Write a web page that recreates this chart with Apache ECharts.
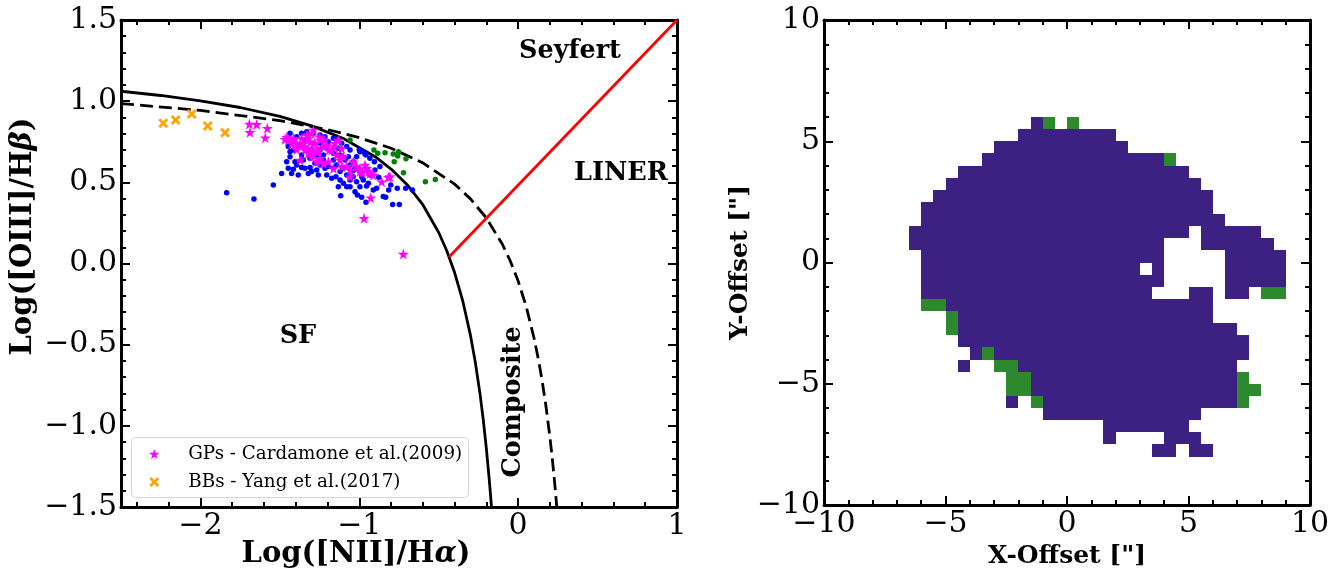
<!DOCTYPE html>
<html><head><meta charset="utf-8">
<script src="https://cdn.jsdelivr.net/npm/echarts@6/dist/echarts.min.js"></script>
<style>html,body{margin:0;padding:0;background:#fff}#c{width:1341px;height:569px}</style>
</head><body><div id="c"></div>
<script>
// ---------- DATA (left panel: BPT diagram) ----------
const kauffmanCurve = [[-2.5,1.061],[-2.25,1.035],[-2.0,1.002],[-1.75,0.961],[-1.5,0.906],[-1.3,0.848],[-1.1,0.770],[-0.9,0.658],[-0.8,0.582],[-0.7,0.487],[-0.6,0.362],[-0.5,0.191],[-0.45,0.080],[-0.4,-0.056],[-0.35,-0.225],[-0.3,-0.443],[-0.27,-0.606],[-0.24,-0.803],[-0.22,-0.959],[-0.2,-1.140],[-0.18,-1.352],[-0.168,-1.498]];
const kewleyCurve = [[-2.5,0.985],[-2.0,0.943],[-1.5,0.880],[-1.2,0.825],[-1.0,0.775],[-0.8,0.710],[-0.6,0.620],[-0.4,0.489],[-0.3,0.398],[-0.2,0.280],[-0.1,0.120],[-0.05,0.017],[0.0,-0.108],[0.05,-0.262],[0.1,-0.459],[0.13,-0.604],[0.15,-0.716],[0.175,-0.878],[0.2,-1.069],[0.215,-1.202],[0.23,-1.352],[0.243,-1.497]];
const seyfertLinerLine = [[-0.435,0.04],[1.0,1.5]];
const blueSpaxels = [[-1.457,0.627],[-1.447,0.586],[-1.436,0.658],[-1.426,0.555],[-1.489,0.555],[-1.384,0.545],[-1.415,0.580],[-1.363,0.592],[-1.310,0.592],[-1.268,0.576],[-1.247,0.607],[-1.195,0.597],[-1.163,0.638],[-1.147,0.535],[-1.121,0.514],[-1.100,0.494],[-1.079,0.473],[-1.058,0.514],[-1.038,0.535],[-1.027,0.442],[-1.012,0.422],[-0.996,0.473],[-0.954,0.477],[-0.943,0.494],[-0.985,0.408],[-0.958,0.377],[-0.912,0.453],[-0.891,0.463],[-0.849,0.412],[-0.834,0.408],[-0.815,0.453],[-0.802,0.484],[-0.790,0.364],[-0.748,0.364],[-0.761,0.463],[-0.708,0.463],[-0.666,0.453],[-0.878,0.531],[-1.038,0.627],[-1.017,0.658],[-0.996,0.689],[-0.964,0.675],[-0.933,0.648],[-0.905,0.627],[-1.058,0.699],[-1.079,0.720],[-1.111,0.740],[-1.142,0.761],[-1.163,0.771],[-1.216,0.781],[-1.247,0.792],[-1.289,0.802],[-1.331,0.812],[-1.363,0.802],[-1.394,0.781],[-1.415,0.750],[-1.447,0.720],[-1.436,0.689],[-1.405,0.627],[-1.352,0.638],[-1.310,0.648],[-1.268,0.658],[-1.247,0.699],[-1.205,0.709],[-1.163,0.679],[-1.121,0.668],[-1.090,0.638],[-1.058,0.607],[-1.027,0.586],[-0.996,0.566],[-1.121,0.566],[-1.163,0.586],[-1.205,0.545],[-1.258,0.545],[-1.300,0.566],[-1.342,0.586],[-1.038,0.572],[-0.985,0.535],[-1.079,0.545],[-1.835,0.436],[-1.663,0.397],[-1.541,0.484],[-1.117,0.418],[-1.373,0.720],[-1.331,0.699],[-1.289,0.740],[-1.363,0.668],[-1.300,0.689],[-1.394,0.607],[-1.226,0.638],[-1.216,0.586],[-1.279,0.617],[-1.342,0.750],[-1.247,0.740],[-1.195,0.750],[-1.132,0.709],[-1.226,0.668],[-1.142,0.607],[-1.100,0.586],[-1.069,0.658],[-1.321,0.555],[-1.174,0.525],[-1.132,0.473],[-1.058,0.473],[-1.017,0.504],[-0.975,0.514],[-0.933,0.545],[-0.901,0.576],[-0.870,0.597],[-1.415,0.699],[-1.457,0.761],[-1.436,0.802],[-0.975,0.689],[-0.958,0.668],[-1.000,0.700]];
const greenSpaxels = [[-0.908,0.699],[-0.838,0.683],[-0.884,0.679],[-0.786,0.675],[-0.754,0.689],[-0.758,0.662],[-0.706,0.646],[-0.780,0.627],[-0.722,0.559],[-0.584,0.504],[-0.521,0.518],[-1.058,0.761]];
const greenPeas = [[-1.457,0.777],[-1.426,0.740],[-1.447,0.761],[-1.394,0.703],[-1.373,0.638],[-1.363,0.771],[-1.331,0.792],[-1.300,0.802],[-1.289,0.822],[-1.310,0.750],[-1.342,0.720],[-1.321,0.679],[-1.300,0.658],[-1.268,0.689],[-1.247,0.761],[-1.226,0.720],[-1.205,0.730],[-1.174,0.699],[-1.153,0.740],[-1.132,0.761],[-1.111,0.709],[-1.121,0.638],[-1.142,0.668],[-1.195,0.627],[-1.226,0.617],[-1.163,0.586],[-1.111,0.597],[-1.058,0.576],[-1.038,0.627],[-1.017,0.597],[-1.058,0.535],[-0.996,0.566],[-0.964,0.607],[-0.954,0.586],[-0.933,0.555],[-0.912,0.545],[-0.859,0.504],[-0.817,0.531],[-0.807,0.535],[-0.996,0.586],[-1.247,0.648],[-1.268,0.627],[-1.394,0.740],[-1.415,0.771],[-1.468,0.765],[-1.692,0.859],[-1.646,0.857],[-1.688,0.808],[-1.579,0.833],[-1.592,0.775],[-0.970,0.278],[-0.723,0.058],[-0.928,0.405],[-1.35,0.74],[-1.28,0.74],[-1.32,0.77],[-1.26,0.70],[-1.30,0.71],[-1.34,0.70],[-1.37,0.72],[-1.25,0.78],[-1.29,0.67],[-1.19,0.70],[-1.16,0.72],[-1.22,0.76],[-1.10,0.66],[-1.08,0.60],[-0.98,0.56],[-0.94,0.57]];
const blueberries = [[-2.234,0.864],[-2.156,0.884],[-2.055,0.921],[-1.954,0.847],[-1.845,0.806]];
const regionLabels = [[0.326,1.309,'Seyfert',0],[0.647,0.557,'LINER',0],[-1.386,-0.447,'SF',0],[-0.032,-0.853,'Composite',90]];
const bptXTicks = [-2,-1,0,1];
const bptXMinorTicks = [-2.4,-2.2,-1.8,-1.6,-1.4,-1.2,-0.8,-0.6,-0.4,-0.2,0.2,0.4,0.6,0.8];
const legendNames = ['GPs - Cardamone et al.(2009)','BBs - Yang et al.(2017)'];

// ---------- DATA (right panel: spatial map, runs of 0.5" cells: [row bottom y, x start, x end]) ----------
const starFormingRuns = [
 [5.5,-1.5,-1],[5,-2,2],[4.5,-3,2.5],[4,-3.5,4],[3.5,-4.5,5],[3,-5,5.5],[2.5,-5.5,6],[2,-6,6],[1.5,-6,6.5],
 [1,-6.5,5],[1,5.5,8],[0.5,-6.5,4],[0.5,5.5,8.5],[0,-6,4],[0,6.5,9],
 [-0.5,-6,3],[-0.5,3.5,4],[-0.5,6.5,9],[-1,-6,4],[-1,6.5,9],
 [-1.5,-6,3.5],[-1.5,5,6],[-1.5,6.5,7.5],[-2,-5,6],[-2.5,-4.5,6],[-3,-4.5,7],[-3.5,-4.5,7.5],
 [-4,-4,-3.5],[-4,-3,7.5],[-4.5,-4.5,-4],[-4.5,-2,7],[-5,-1.5,7],[-5.5,-1.5,7],
 [-6,-2.5,-2],[-6,-1,7],[-6.5,-1,5.5],[-7,1.5,5],[-7.5,1.5,2],[-7.5,4,5.5],[-8,3.5,4.5],[-8,5,6]];
const compositeRuns = [
 [5.5,-1,-0.5],[5.5,0,0.5],[4,4,4.5],[-1.5,8,9],[-2,-6,-5],[-2.5,-5,-4.5],[-3,-5,-4.5],[-4,-3.5,-3],
 [-4.5,-3,-2],[-5,-2.5,-1.5],[-5,7,7.5],[-5.5,-2.5,-1.5],[-5.5,7,8],[-6,-1.5,-1],[-6,7,7.5]];
const mapTicks = [-10,-5,0,5,10];

// ---------- RENDER ----------
const FONT = 'DejaVu Serif';
const CELL = 0.5;
const minus = s => String(s).replace('-', '\u2212');
const STAR = 'path://M0,-1 L0.2245,-0.309 L0.951,-0.309 L0.3633,0.118 L0.588,0.809 L0,0.382 L-0.588,0.809 L-0.3633,0.118 L-0.951,-0.309 L-0.2245,-0.309 Z';
const XMARK = 'path://M0.53,-0.884 L0.884,-0.53 L0.354,0 L0.884,0.53 L0.53,0.884 L0,0.354 L-0.53,0.884 L-0.884,0.53 L-0.354,0 L-0.884,-0.53 L-0.53,-0.884 L0,-0.354 Z';

const lineW = 3, tickW = 2, majLen = 9, minLen = 5;
const tickStyle = {color:'#000', width:tickW};
function frameAxis(extra){
  return Object.assign({
    type:'value', splitLine:{show:false},
    axisLine:{show:true, onZero:false, lineStyle:{color:'#000', width:lineW}},
    axisTick:{show:true, inside:true, length:majLen, lineStyle:tickStyle},
    minorTick:{show:false}, axisLabel:{show:false}
  }, extra);
}
const labelStyle = {show:true, fontFamily:FONT, fontSize:30, color:'#000'};
function nameStyle(size, pad){
  return {fontFamily:FONT, fontWeight:'bold', fontSize:size, color:'#000', padding:pad,
    rich:{g:{fontFamily:FONT, fontStyle:'italic', fontSize:size, color:'#000'}}};
}

const xAxes = [
  frameAxis({gridIndex:0, position:'bottom', min:-2.5, max:1,
    axisTick:{show:true, inside:true, length:majLen, customValues:bptXTicks, lineStyle:tickStyle},
    axisLabel:Object.assign({customValues:bptXTicks, margin:4, formatter:v=>minus(v)}, labelStyle),
    name:'Log([NII]/H{g|α})', nameLocation:'middle', nameGap:33, nameMoveOverlap:false,
    nameTextStyle:nameStyle(29,[0,86,0,0])}),
  frameAxis({gridIndex:0, position:'top', min:-2.5, max:1,
    axisTick:{show:true, inside:true, length:majLen, customValues:bptXTicks, lineStyle:tickStyle}}),
  frameAxis({gridIndex:0, position:'bottom', min:-2.5, max:1, axisLine:{show:false, onZero:false},
    axisTick:{show:true, inside:true, length:minLen, customValues:bptXMinorTicks, lineStyle:tickStyle}}),
  frameAxis({gridIndex:0, position:'top', min:-2.5, max:1, axisLine:{show:false, onZero:false},
    axisTick:{show:true, inside:true, length:minLen, customValues:bptXMinorTicks, lineStyle:tickStyle}}),
  frameAxis({gridIndex:1, position:'bottom', min:-10, max:10, interval:5,
    minorTick:{show:true, splitNumber:5, length:minLen, lineStyle:tickStyle},
    axisLabel:Object.assign({customValues:mapTicks, margin:4, formatter:v=>minus(v)}, labelStyle),
    name:'X-Offset ["]', nameLocation:'middle', nameGap:33, nameTextStyle:nameStyle(25,[0,0,0,0])}),
  frameAxis({gridIndex:1, position:'top', min:-10, max:10, interval:5,
    minorTick:{show:true, splitNumber:5, length:minLen, lineStyle:tickStyle}})
];
const yAxes = [
  frameAxis({gridIndex:0, position:'left', min:-1.5, max:1.5, interval:0.5,
    minorTick:{show:true, splitNumber:5, length:minLen, lineStyle:tickStyle},
    axisLabel:Object.assign({margin:4, formatter:v=>minus(v.toFixed(1))}, labelStyle),
    name:'Log([OIII]/H{g|β})', nameLocation:'middle', nameGap:83, nameTextStyle:nameStyle(29,[0,0,0,54])}),
  frameAxis({gridIndex:0, position:'right', min:-1.5, max:1.5, interval:0.5,
    minorTick:{show:true, splitNumber:5, length:minLen, lineStyle:tickStyle}}),
  frameAxis({gridIndex:1, position:'left', min:-10, max:10, interval:5,
    minorTick:{show:true, splitNumber:5, length:minLen, lineStyle:tickStyle},
    axisLabel:Object.assign({customValues:mapTicks, margin:4, formatter:v=>minus(v)}, labelStyle),
    name:'Y-Offset ["]', nameLocation:'middle', nameGap:64, nameTextStyle:nameStyle(25,[0,0,0,0])}),
  frameAxis({gridIndex:1, position:'right', min:-10, max:10, interval:5,
    minorTick:{show:true, splitNumber:5, length:minLen, lineStyle:tickStyle}})
];

function runRenderer(color){
  return function(params, api){
    const yb = api.value(0), xa = api.value(1), xb = api.value(2);
    const p0 = api.coord([xa, yb + CELL]);
    const p1 = api.coord([xb, yb]);
    const x0 = Math.round(p0[0]), y0 = Math.round(p0[1]);
    const x1 = Math.round(p1[0]), y1 = Math.round(p1[1]);
    return {type:'rect', shape:{x:x0, y:y0, width:x1-x0, height:y1-y0},
      style:{fill:color}};
  };
}

const chart = echarts.init(document.getElementById('c'), null, {renderer:'canvas'});
chart.setOption({
  animation:false,
  backgroundColor:'#fff',
  grid:[
    {left:121, top:20, width:556, height:487, outerBoundsMode:'none', containLabel:false},
    {left:824, top:20, width:486, height:485, outerBoundsMode:'none', containLabel:false}
  ],
  xAxis:xAxes,
  yAxis:yAxes,
  graphic:[{type:'rect', left:131, top:437, z:90,
    shape:{width:337, height:60, r:4},
    style:{fill:'rgba(255,255,255,0.85)', stroke:'#d6d6d6', lineWidth:1}}],
  legend:{
    show:true, orient:'vertical', left:149, top:445, data:legendNames, z:100,
    padding:0, itemGap:10, itemWidth:58, itemHeight:10,
    textStyle:{fontFamily:FONT, fontSize:18.3, color:'#000'}
  },
  series:[
    {type:'line', xAxisIndex:0, yAxisIndex:0, data:kauffmanCurve, showSymbol:false, silent:true,
      lineStyle:{color:'#000', width:2.8}, z:2},
    {type:'line', xAxisIndex:0, yAxisIndex:0, data:kewleyCurve, showSymbol:false, silent:true,
      lineStyle:{color:'#000', width:2.8, type:[13,6]}, z:2},
    {type:'line', xAxisIndex:0, yAxisIndex:0, data:seyfertLinerLine, showSymbol:false, silent:true,
      lineStyle:{color:'#ff0000', width:2.8}, z:2},
    {type:'scatter', xAxisIndex:0, yAxisIndex:0, data:blueSpaxels, symbol:'circle', symbolSize:5.5,
      itemStyle:{color:'#0000ff', opacity:1}, z:3},
    {type:'scatter', xAxisIndex:0, yAxisIndex:0, data:greenSpaxels, symbol:'circle', symbolSize:5.5,
      itemStyle:{color:'#008000', opacity:1}, z:3},
    {type:'scatter', name:legendNames[0], xAxisIndex:0, yAxisIndex:0, data:greenPeas, symbol:STAR, symbolSize:11,
      itemStyle:{color:'#ff00ff', opacity:1}, z:4},
    {type:'scatter', name:legendNames[1], xAxisIndex:0, yAxisIndex:0, data:blueberries, symbol:XMARK, symbolSize:10,
      itemStyle:{color:'#ffa500', opacity:1}, z:4},
    {type:'scatter', xAxisIndex:0, yAxisIndex:0, data:regionLabels.map(d=>({value:[d[0],d[1]], name:d[2],
        label:{rotate:d[3]}})), symbolSize:0, silent:true, z:5, itemStyle:{opacity:1},
      label:{show:true, position:'inside', formatter:p=>p.name, fontFamily:FONT, fontWeight:'bold', fontSize:25.5, color:'#000', opacity:1}},
    {type:'custom', xAxisIndex:4, yAxisIndex:2, data:starFormingRuns, encode:{x:[1,2], y:0},
      renderItem:runRenderer('#3c2182'), silent:true, z:2},
    {type:'custom', xAxisIndex:4, yAxisIndex:2, data:compositeRuns, encode:{x:[1,2], y:0},
      renderItem:runRenderer('#2e882e'), silent:true, z:2}
  ]
});
</script></body></html>
